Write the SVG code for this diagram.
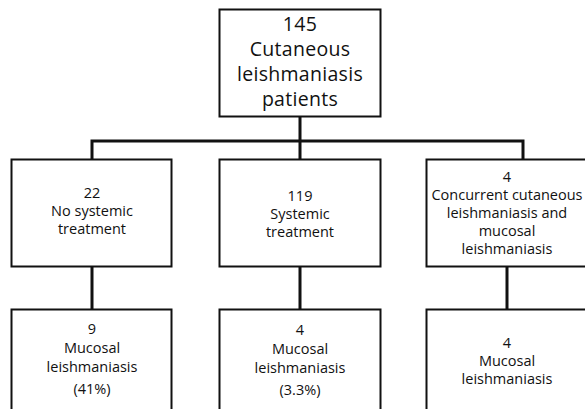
<svg xmlns="http://www.w3.org/2000/svg" width="585" height="409" viewBox="0 0 585 409">
<style>
.box{fill:#fff;stroke:#111;stroke-width:2}
.con{fill:none;stroke:#111;stroke-width:3}
text{font-family:"Open Sans","Noto Sans",sans-serif;fill:#111;text-anchor:middle}
.big{font-size:19.5px;letter-spacing:0.3px}
.sm{font-size:14.5px}
</style>
<rect width="585" height="409" fill="#fff"/>
<g id="connectors">
<path class="con" d="M300 117V141M92 159V141H523V159M300 141V159"/>
<path class="con" d="M92 267V309M300 267V309M507 267V309"/>
</g>
<g id="n-top">
<rect class="box" x="219.5" y="9.5" width="161" height="107"/>
<text class="big"><tspan x="300" y="30.5">145</tspan><tspan x="300" y="56">Cutaneous</tspan><tspan x="300" y="81">leishmaniasis</tspan><tspan x="300" y="106">patients</tspan></text>
</g>
<g id="n-nosys">
<rect class="box" x="11.5" y="159.5" width="160" height="107"/>
<text class="sm"><tspan x="92" y="198">22</tspan><tspan x="92" y="216">No systemic</tspan><tspan x="92" y="234">treatment</tspan></text>
</g>
<g id="n-sys">
<rect class="box" x="219.5" y="159.5" width="161" height="107"/>
<text class="sm"><tspan x="300" y="201">119</tspan><tspan x="300" y="219">Systemic</tspan><tspan x="300" y="237">treatment</tspan></text>
</g>
<g id="n-concurrent">
<rect class="box" x="426.5" y="159.5" width="161" height="107"/>
<text class="sm"><tspan x="507" y="182">4</tspan><tspan x="507" y="200">Concurrent cutaneous</tspan><tspan x="507" y="218">leishmaniasis and</tspan><tspan x="507" y="236">mucosal</tspan><tspan x="507" y="254">leishmaniasis</tspan></text>
</g>
<g id="n-ml1">
<rect class="box" x="11.5" y="309.5" width="160" height="110"/>
<text class="sm"><tspan x="92" y="334">9</tspan><tspan x="92" y="353">Mucosal</tspan><tspan x="92" y="372">leishmaniasis</tspan><tspan x="92" y="394">(41%)</tspan></text>
</g>
<g id="n-ml2">
<rect class="box" x="219.5" y="309.5" width="161" height="110"/>
<text class="sm"><tspan x="300" y="335">4</tspan><tspan x="300" y="354">Mucosal</tspan><tspan x="300" y="373">leishmaniasis</tspan><tspan x="300" y="395">(3.3%)</tspan></text>
</g>
<g id="n-ml3">
<rect class="box" x="426.5" y="309.5" width="161" height="110"/>
<text class="sm"><tspan x="507" y="348">4</tspan><tspan x="507" y="366">Mucosal</tspan><tspan x="507" y="384">leishmaniasis</tspan></text>
</g>
</svg>
